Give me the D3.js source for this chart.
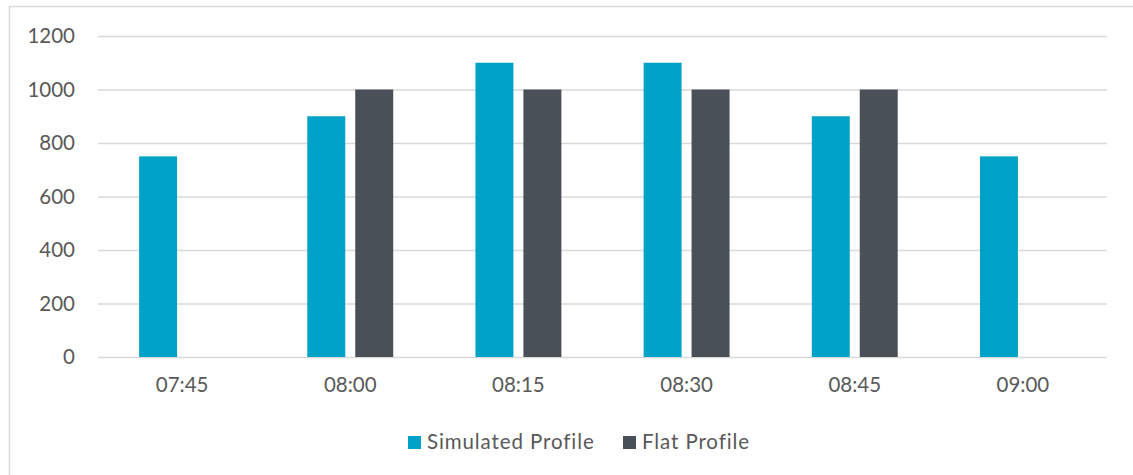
<!DOCTYPE html>
<html>
<head>
<meta charset="utf-8">
<script src="https://cdn.jsdelivr.net/npm/d3@7"></script>
<style>
  html, body { margin: 0; padding: 0; background: #ffffff; }
  svg { display: block; }
</style>
</head>
<body>
<svg id="chart" width="1133" height="475"></svg>
<script>
// Time slots along the x axis
const categories = ["07:45", "08:00", "08:15", "08:30", "08:45", "09:00"];
// Series values (null = no bar in that slot)
const simulatedProfile = [750, 900, 1100, 1100, 900, 750];
const flatProfile = [null, 1000, 1000, 1000, 1000, null];
const seriesNames = ["Simulated Profile", "Flat Profile"];
const yTicks = [0, 200, 400, 600, 800, 1000, 1200];

const colors = { "Simulated Profile": "#00A2C7", "Flat Profile": "#495057" };
const textColor = "#595959";
const gridColor = "#D9D9D9";
const fontFamily = "Lato, 'Open Sans', sans-serif";

const svg = d3.select("#chart");

// Outer chart frame
svg.append("rect")
  .attr("x", 9.5).attr("y", 6.5)
  .attr("width", 1140).attr("height", 480)
  .attr("fill", "none")
  .attr("stroke", gridColor)
  .attr("stroke-width", 1.5);

const plot = { left: 98, right: 1107, top: 36, bottom: 357 };

const x0 = d3.scaleBand()
  .domain(categories)
  .range([plot.left, plot.right])
  .paddingInner(0.489)
  .paddingOuter(0.2445);

const x1 = d3.scaleBand()
  .domain(seriesNames)
  .range([0, x0.bandwidth()])
  .paddingInner(0.208);

const y = d3.scaleLinear()
  .domain([0, 1200])
  .range([plot.bottom, plot.top]);

// Horizontal gridlines and y tick labels
const yAxis = d3.axisLeft(y)
  .tickValues(yTicks)
  .tickSize(-(plot.right - plot.left))
  .tickPadding(23)
  .tickFormat(d3.format("d"));

const gy = svg.append("g")
  .attr("transform", `translate(${plot.left},0)`)
  .call(yAxis);
gy.select(".domain").remove();
gy.selectAll(".tick line")
  .attr("stroke", gridColor)
  .attr("stroke-width", 1.5);
gy.selectAll(".tick text")
  .attr("fill", textColor)
  .style("font-family", fontFamily)
  .style("font-size", "20.5px");

// Bars
const rows = categories.map((c, i) => ({
  cat: c,
  values: [
    { name: seriesNames[0], value: simulatedProfile[i] },
    { name: seriesNames[1], value: flatProfile[i] }
  ]
}));

const groups = svg.append("g")
  .selectAll("g")
  .data(rows)
  .join("g")
  .attr("transform", d => `translate(${x0(d.cat)},0)`);

groups.selectAll("rect")
  .data(d => d.values.filter(v => v.value != null))
  .join("rect")
  .attr("x", d => x1(d.name))
  .attr("y", d => y(d.value))
  .attr("width", x1.bandwidth())
  .attr("height", d => y(0) - y(d.value))
  .attr("fill", d => colors[d.name]);

// X axis labels
const xAxis = d3.axisBottom(x0).tickSize(0).tickPadding(20);
const gx = svg.append("g")
  .attr("transform", `translate(0,${plot.bottom})`)
  .call(xAxis);
gx.select(".domain").remove();
gx.selectAll(".tick text")
  .attr("fill", textColor)
  .style("font-family", fontFamily)
  .style("font-size", "20.5px");

// Legend
const legendItems = [
  { name: seriesNames[0], x: 408 },
  { name: seriesNames[1], x: 623 }
];
const legend = svg.append("g");
legendItems.forEach(item => {
  legend.append("rect")
    .attr("x", item.x).attr("y", 436)
    .attr("width", 13).attr("height", 13)
    .attr("fill", colors[item.name]);
  legend.append("text")
    .attr("x", item.x + 19).attr("y", 449)
    .attr("fill", textColor)
    .style("font-family", fontFamily)
    .style("font-size", "20.5px")
    .style("letter-spacing", "0.9px")
    .text(item.name);
});
</script>
</body>
</html>
